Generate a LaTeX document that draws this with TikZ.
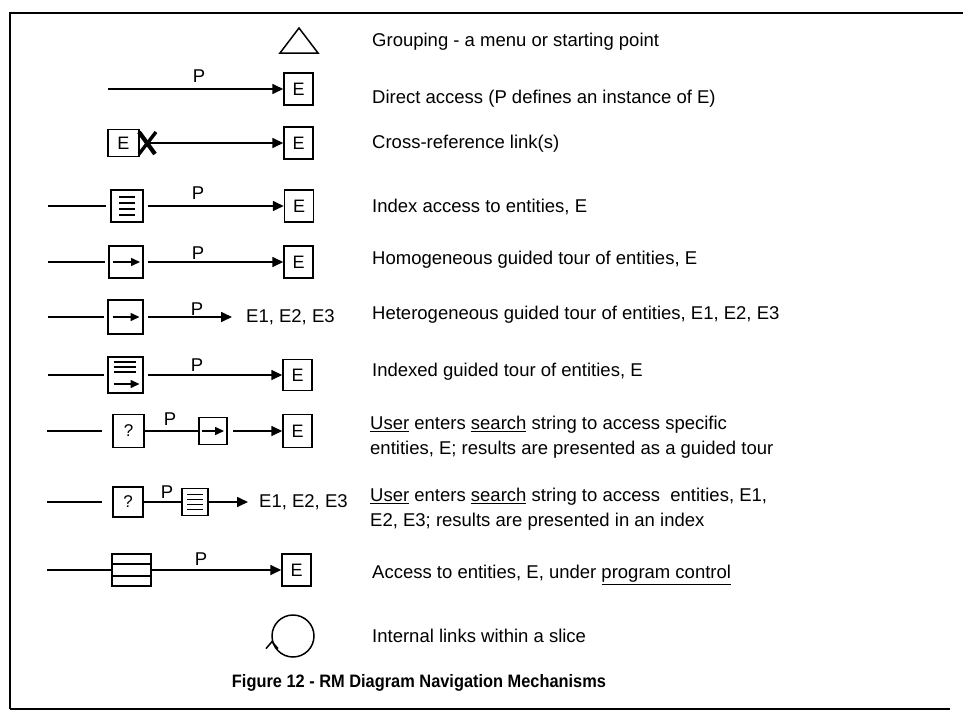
\documentclass[tikz,border=0pt]{standalone}
\usepackage{fontspec}
\setmainfont{Liberation Sans}
\usepackage{graphicx}
\usetikzlibrary{arrows.meta}
\begin{document}
\begin{tikzpicture}[x=1pt,y=-1pt,
  txt/.style={anchor=west,inner sep=0pt,align=left,font=\fontsize{18.5}{25}\selectfont},
  lbl/.style={inner sep=0pt,font=\fontsize{18.5}{22}\selectfont},
  ebox/.style={draw,line width=1.5pt,minimum width=29pt,minimum height=32pt,inner sep=0pt,font=\fontsize{18}{22}\selectfont},
  symbox/.style={draw,line width=1.5pt,inner sep=0pt,font=\fontsize{17}{20}\selectfont},
  conn/.style={line width=1.7pt},
  arr/.style={conn,-{Triangle[length=11pt,width=10pt]}},
  smallarr/.style={line width=1.5pt,-{Triangle[length=9pt,width=8pt]}},
  glyph/.style={line width=1.1pt},
  gap/.style={shorten <=4pt},
]
\useasboundingbox (0,0) rectangle (963,723);
\fill[white] (0,0) rectangle (963,723);
% frame
\draw[line width=2.6pt] (963,13) -- (10,13) -- (10,709);
\draw[line width=2pt] (10,709) -- (950,709);

% row 1: grouping
\draw[line width=1.5pt,line join=miter] (280,53) -- (299,28) -- (318,53) -- cycle;
\node[txt] (t1) at (372,42) {Grouping - a menu or starting point};

% row 2: direct access
\coordinate (s2) at (108,89);
\node[ebox] (e2) at (298.5,89) {E};
\draw[arr] (s2) -- (e2);
\node[lbl] (p2) at (199,76) {P};
\node[txt] (t2) at (372,99) {Direct access (P defines an instance of E)};

% row 3: cross-reference
\node[ebox,minimum width=31pt,minimum height=27pt] (e3a) at (123.5,143) {E};
\coordinate (x3) at (147,143);
\node[ebox] (e3b) at (298.5,143) {E};
\draw[arr] (x3) -- (e3b);
\draw[line width=4.2pt] (139,132) -- (155,154);
\draw[line width=3.4pt] (156,132) -- (139,154);
\node[txt] (t3) at (372,144) {Cross-reference link(s)};

% row 4: index access
\coordinate (l4) at (48,206);
\node[symbox,minimum width=32pt,minimum height=32pt] (ib4) at (127,206) {};
\foreach \d in {-9,-3,3,9}
  \draw[glyph] ([shift={(-8,\d)}]ib4.center) -- ([shift={(8,\d)}]ib4.center);
\node[ebox] (e4) at (299,206) {E};
\draw[conn,shorten >=4pt] (l4) -- (ib4);
\draw[arr,gap] (ib4) -- (e4);
\node[lbl] (p4) at (198,193) {P};
\node[txt] (t4) at (372,207) {Index access to entities, E};

% row 5: homogeneous guided tour
\coordinate (l5) at (48,262);
\node[symbox,minimum width=34pt,minimum height=32pt] (gb5) at (126,262) {};
\draw[smallarr] ([xshift=-13]gb5.center) -- ([xshift=14]gb5.center);
\node[ebox] (e5) at (298.5,262) {E};
\draw[conn,shorten >=3pt] (l5) -- (gb5);
\draw[arr,gap] (gb5) -- (e5);
\node[lbl] (p5) at (198,253) {P};
\node[txt] (t5) at (372,260) {Homogeneous guided tour of entities, E};

% row 6: heterogeneous guided tour
\coordinate (l6) at (48,317);
\node[symbox,minimum width=35pt,minimum height=34pt] (gb6) at (125.5,317) {};
\draw[smallarr] ([xshift=-13]gb6.center) -- ([xshift=14]gb6.center);
\node[lbl,anchor=west] (e6) at (246,317) {E1, E2, E3};
\draw[conn,shorten >=3pt] (l6) -- (gb6);
\draw[arr,gap,shorten >=14pt] (gb6) -- (e6);
\node[lbl] (p6) at (197,309) {P};
\node[txt] (t6) at (372,315) {Heterogeneous guided tour of entities, E1, E2, E3};

% row 7: indexed guided tour
\coordinate (l7) at (48,375);
\node[symbox,minimum width=35pt,minimum height=36pt] (ig7) at (125.5,375) {};
\foreach \d in {-13,-8,-3}
  \draw[glyph] ([shift={(-12,\d)}]ig7.center) -- ([shift={(10,\d)}]ig7.center);
\draw[smallarr] ([shift={(-12,9)}]ig7.center) -- ([shift={(14,9)}]ig7.center);
\node[ebox,minimum height=31pt] (e7) at (297.5,375) {E};
\draw[conn,shorten >=3pt] (l7) -- (ig7);
\draw[arr,gap] (ig7) -- (e7);
\node[lbl] (p7) at (197,365) {P};
\node[txt] (t7) at (372,372) {Indexed guided tour of entities, E};

% row 8: search -> guided tour
\coordinate (l8) at (47,431);
\node[symbox,minimum width=31pt,minimum height=33pt] (q8) at (128.5,431) {?};
\node[symbox,minimum width=28pt,minimum height=27pt] (gb8) at (213,431) {};
\draw[smallarr] ([xshift=-11]gb8.center) -- ([xshift=11]gb8.center);
\node[ebox,minimum height=33pt] (e8) at (297.5,431) {E};
\draw[conn,shorten >=10pt] (l8) -- (q8);
\draw[conn] (q8) -- (gb8);
\draw[arr,shorten <=5pt] (gb8) -- (e8);
\node[lbl] (p8) at (170,419) {P};
\node[txt] (t8) at (370,437.5) {\underline{User} enters \underline{search} string to access specific\\entities, E; results are presented as a guided tour};

% row 9: search -> index
\coordinate (l9) at (47,502);
\node[symbox,minimum width=30pt,minimum height=30pt] (q9) at (128,502) {?};
\node[symbox,minimum width=26pt,minimum height=27pt] (ib9) at (195,502) {};
\foreach \d in {-7.5,-2.5,2.5,7.5}
  \draw[glyph] ([shift={(-8,\d)}]ib9.center) -- ([shift={(8,\d)}]ib9.center);
\node[lbl,anchor=west] (e9) at (259,502) {E1, E2, E3};
\draw[conn,shorten >=10pt] (l9) -- (q9);
\draw[conn] (q9) -- (ib9);
\draw[arr,shorten >=11pt] (ib9) -- (e9);
\node[lbl] (p9) at (167,492) {P};
\node[txt] (t9) at (370,509.5) {\underline{User} enters \underline{search} string to access\ \ entities, E1,\\E2, E3; results are presented in an index};

% row 10: program control
\coordinate (l10) at (47,570);
\node[symbox,minimum width=39pt,minimum height=32pt] (pb10) at (131.5,570) {};
\draw[glyph] (pb10.west |- 0,564) -- (pb10.east |- 0,564);
\draw[glyph] (pb10.west |- 0,576) -- (pb10.east |- 0,576);
\node[ebox] (e10) at (296.5,570) {E};
\draw[conn] (l10) -- (pb10);
\draw[arr] (pb10) -- (e10);
\node[lbl] (p10) at (201,559) {P};
\node[txt] (t10) at (372,575) {Access to entities, E, under \underline{program control}};

% row 11: internal links
\node[draw,circle,line width=1.5pt,minimum size=42pt,inner sep=0pt] (c11) at (293,636) {};
\draw[line width=1.5pt,line join=miter] ([shift={(-6,7)}]c11.195) -- (c11.195) -- ([shift={(6,7)}]c11.195);
\node[txt] (t11) at (372,636) {Internal links within a slice};

% caption
\node[inner sep=0pt,font=\bfseries\fontsize{18}{22}\selectfont] (cap) at (419,683) {\scalebox{0.91}[1]{Figure 12 - RM Diagram Navigation Mechanisms}};
\end{tikzpicture}
\end{document}
